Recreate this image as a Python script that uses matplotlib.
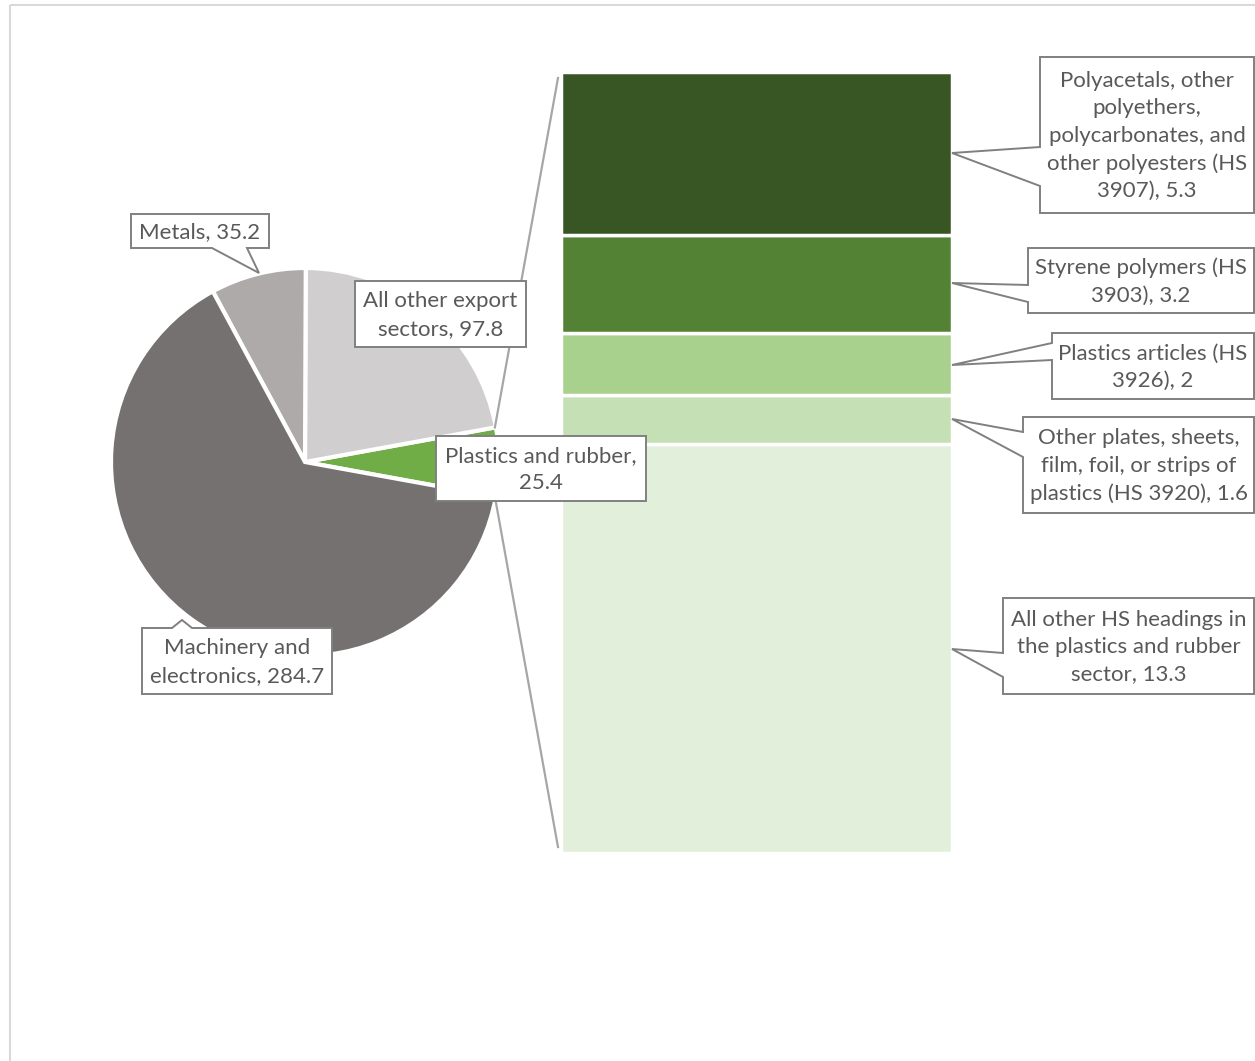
import matplotlib
matplotlib.use("Agg")
import matplotlib.pyplot as plt
from matplotlib.patches import Polygon, Rectangle
import numpy as np

plt.rcParams['font.family'] = ['Lato', 'DejaVu Sans']

# ---- data ----
pie_labels = ["Plastics and rubber", "All other export sectors", "Metals", "Machinery and electronics"]
pie_values = [25.4, 97.8, 35.2, 284.7]
pie_colors = ["#70AD47", "#D0CECE", "#AEAAAA", "#757171"]

bar_labels = ["All other HS headings in the plastics and rubber sector",
              "Other plates, sheets, film, foil, or strips of plastics (HS 3920)",
              "Plastics articles (HS 3926)",
              "Styrene polymers (HS 3903)",
              "Polyacetals, other polyethers, polycarbonates, and other polyesters (HS 3907)"]
bar_values = [13.3, 1.6, 2.0, 3.2, 5.3]
bar_colors = ["#E2EFDA", "#C5E0B4", "#A9D18E", "#548235", "#375623"]

W, H = 1255, 1061
fig = plt.figure(figsize=(W / 100, H / 100), dpi=100)
fig.patch.set_facecolor("white")

def px_axes(x0, y0, x1, y1, **kw):
    return fig.add_axes([x0 / W, (H - y1) / H, (x1 - x0) / W, (y1 - y0) / H], **kw)

# overlay axes in pixel coordinates
ov = px_axes(0, 0, W, H)
ov.set_xlim(0, W)
ov.set_ylim(H, 0)
ov.axis("off")
ov.set_zorder(5)
ov.patch.set_alpha(0)

# border of chart area
ov.add_patch(Rectangle((9.5, 4.5), 1400, 1200, fill=False, ec="#D9D9D9", lw=1.5))

# ---- pie ----
cx, cy, R = 305, 462, 194
axp = px_axes(cx - 200, cy - 200, cx + 200, cy + 200)
total = sum(pie_values)
half = 360 * pie_values[0] / total / 2
axp.pie(pie_values, colors=pie_colors, startangle=-half, counterclock=True,
        radius=R, center=(0, 0), frame=False,
        wedgeprops=dict(edgecolor="white", linewidth=3))
axp.set_xlim(-200, 200)
axp.set_ylim(-200, 200)
axp.set_aspect("equal")
axp.axis("off")

# ---- stacked bar ----
bx0, bx1, by0, by1 = 561, 952, 72, 853
axb = px_axes(bx0, by0, bx1, by1)
bottom = 0
for v, c in zip(bar_values, bar_colors):
    axb.bar(0.5, v, width=1.0, bottom=bottom, color=c, edgecolor="white", linewidth=2.5)
    bottom += v
axb.set_xlim(0, 1)
axb.set_ylim(0, sum(bar_values))
axb.axis("off")
axb.set_zorder(2)

# ---- connector lines ----
a = np.deg2rad(half)
ov.plot([cx + (R - 1) * np.cos(a), 558], [cy - (R - 1) * np.sin(a), 78], color="#A6A6A6", lw=1.6)
ov.plot([cx + (R - 1) * np.cos(a), 558], [cy + (R - 1) * np.sin(a), 847], color="#A6A6A6", lw=1.6)

TXT = "#595959"
EDGE = "#808080"
FS = 16

def box(x0, y0, x1, y1, text, pointer=None, side=None):
    # pointer: (b1, b2, tip) on given side
    if pointer is None:
        pts = [(x0, y0), (x1, y0), (x1, y1), (x0, y1)]
    elif side == "left":
        b1, b2, tip = pointer
        pts = [(x0, y0), (x1, y0), (x1, y1), (x0, y1), (x0, b2), tip, (x0, b1)]
    elif side == "bottom":
        b1, b2, tip = pointer
        pts = [(x0, y0), (x1, y0), (x1, y1), (b2, y1), tip, (b1, y1), (x0, y1)]
    elif side == "top":
        b1, b2, tip = pointer
        pts = [(x0, y0), (b1, y0), tip, (b2, y0), (x1, y0), (x1, y1), (x0, y1)]
    ov.add_patch(Polygon(pts, closed=True, fc="white", ec=EDGE, lw=1.4, zorder=6))
    ov.text((x0 + x1) / 2, (y0 + y1) / 2 + 1, text, ha="center", va="center",
            color=TXT, fontsize=FS, linespacing=1.45, zorder=7)

# pie labels
box(131, 214, 269, 248, "Metals, 35.2", (212, 247, (259, 273)), "bottom")
box(355, 281, 526, 347, "All other export\nsectors, 97.8")
box(436, 436, 646, 501, "Plastics and rubber,\n25.4")
box(142, 628, 332, 694, "Machinery and\nelectronics, 284.7", (172, 192, (182, 620)), "top")

# bar labels
RX = 1254
box(1040, 57, RX, 213,
    "Polyacetals, other\npolyethers,\npolycarbonates, and\nother polyesters (HS\n3907), 5.3",
    (147, 186, (952, 153)), "left")
box(1028, 248, RX, 313, "Styrene polymers (HS\n3903), 3.2", (285, 302, (952, 283)), "left")
box(1052, 333, RX, 399, "Plastics articles (HS\n3926), 2", (343, 360, (952, 365)), "left")
box(1023, 417, RX, 513, "Other plates, sheets,\nfilm, foil, or strips of\nplastics (HS 3920), 1.6",
    (432, 457, (952, 419)), "left")
box(1003, 598, RX, 694, "All other HS headings in\nthe plastics and rubber\nsector, 13.3",
    (653, 677, (952, 649)), "left")

fig.savefig("out.png", dpi=100, facecolor="white")
